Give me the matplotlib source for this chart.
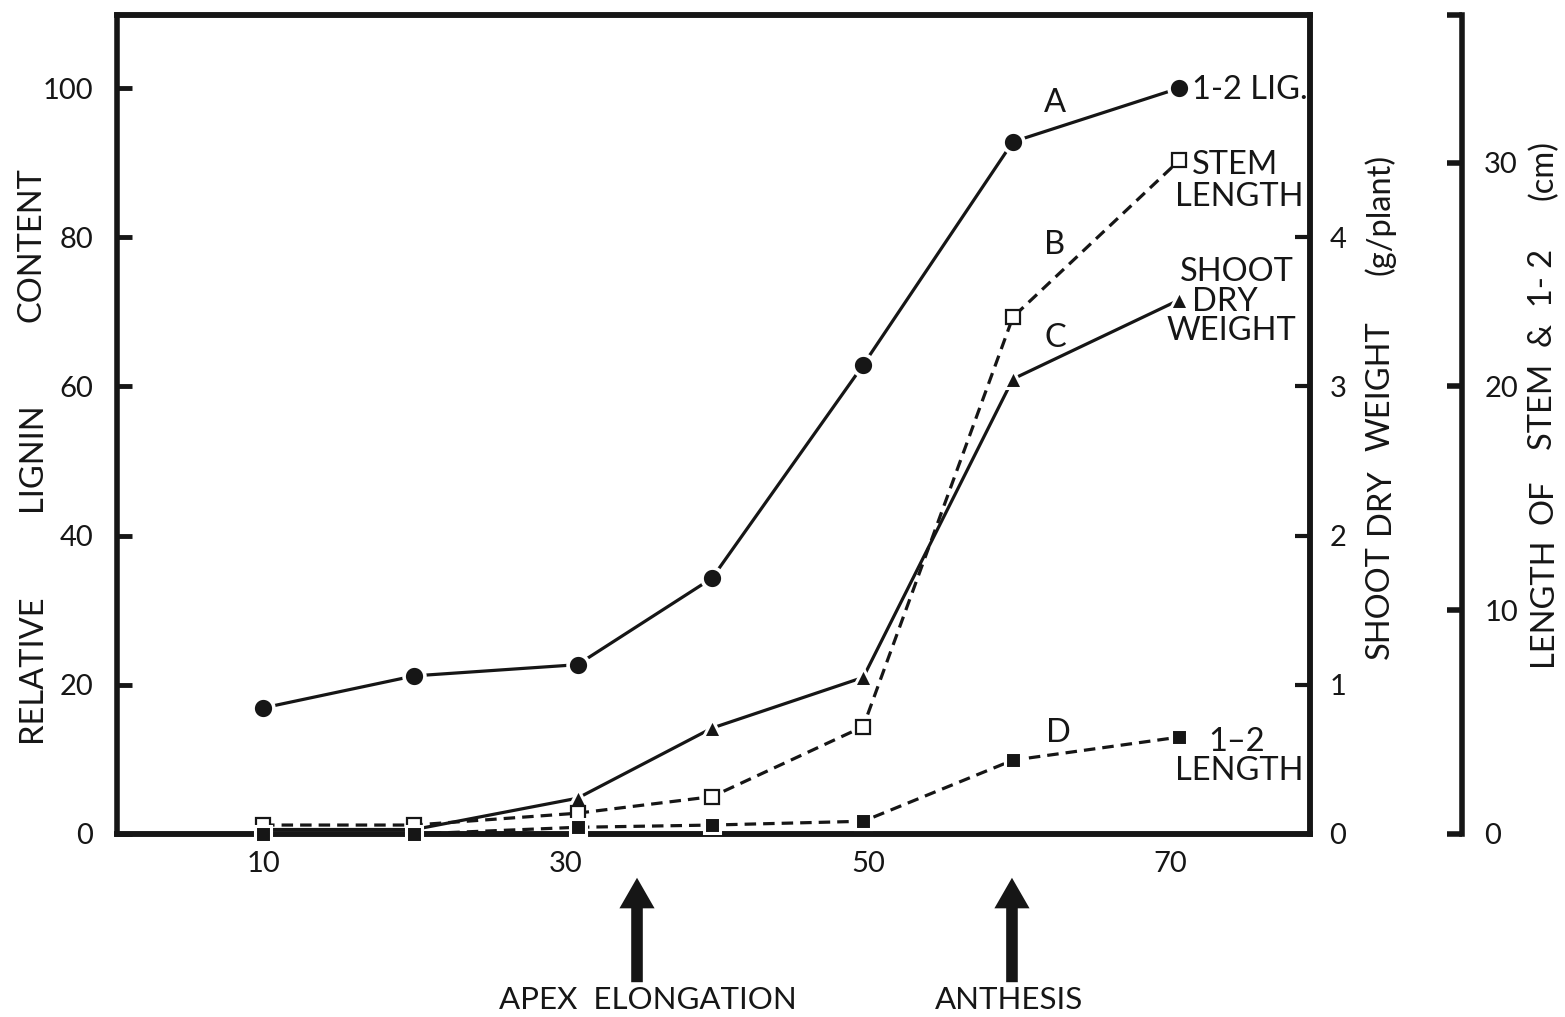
import matplotlib
matplotlib.use("Agg")
import matplotlib.pyplot as plt

plt.rcParams['font.family'] = ['Lato', 'DejaVu Sans']

# ---- data ----
days = [10, 20, 30.8, 39.7, 49.7, 59.6, 70.6]
lignin_rel = [16.9, 21.2, 22.7, 34.3, 62.9, 92.8, 100.0]          # A, relative lignin content
stem_len_cm = [0.40, 0.40, 0.93, 1.67, 4.8, 23.1, 30.1]            # B, stem length (cm)
shoot_dw_g = [0.03, 0.03, 0.24, 0.71, 1.05, 3.05, 3.58]            # C, shoot dry weight (g/plant)
i2_len_cm = [0.0, 0.0, 0.3, 0.4, 0.57, 3.3, 4.33]                 # D, 1-2 internode length (cm)

x_ticks = [10, 30, 50, 70]
left_ticks = [0, 20, 40, 60, 80, 100]
weight_ticks = [0, 1, 2, 3, 4]
length_ticks = [0, 10, 20, 30]

REL_TOP = 109.8
W = 1565
H = 1017

fig = plt.figure(figsize=(W / 100, H / 100), dpi=100)
L, R, B, T = 117 / W, 1310 / W, 1 - 834 / H, 1 - 15 / H
ax = fig.add_axes([L, B, R - L, T - B])
ax.set_xlim(0.34, 79.25)
ax.set_ylim(0, REL_TOP)

ax_w = ax.twinx()
ax_w.set_ylim(0, REL_TOP / 20.0)
ax_l = ax.twinx()
ax_l.set_ylim(0, REL_TOP / 3.0)
ax_l.spines['right'].set_position(('axes', (1462 - 117) / (1310 - 117)))

FS = 21      # tick labels
FSL = 23.5   # words
lw_series = 2.3
INK = '#161616'

for a in (ax, ax_w, ax_l):
    for s in a.spines.values():
        s.set_linewidth(4.0)
        s.set_color(INK)

ax_l.spines['top'].set_visible(False)
ax_l.spines['bottom'].set_visible(False)
ax_l.spines['left'].set_visible(False)
ax_w.spines['left'].set_visible(False)

# main axis ticks
ax.set_xticks(x_ticks)
ax.set_xticklabels([str(v) for v in x_ticks])
ax.tick_params(axis='x', length=0, pad=12, labelsize=FS, labelcolor=INK)
ax.set_yticks(left_ticks)
ax.set_yticklabels([str(v) for v in left_ticks])
ax.tick_params(axis='y', direction='in', length=11, width=3.5, pad=17, labelsize=FS,
               color=INK, labelcolor=INK)

ax_w.set_yticks(weight_ticks)
ax_w.set_yticklabels([str(v) for v in weight_ticks])
ax_w.tick_params(axis='y', direction='in', length=11, width=3.0, pad=14, labelsize=FS,
                 color=INK, labelcolor=INK)

ax_l.set_yticks(length_ticks + [REL_TOP / 3.0])
ax_l.set_yticklabels([str(v) for v in length_ticks] + [''])
ax_l.tick_params(axis='y', direction='in', length=11, width=4.0, pad=16, labelsize=FS,
                 color=INK, labelcolor=INK)

# series
ax.plot(days, lignin_rel, '-', color=INK, lw=lw_series, marker='o', ms=15,
        mfc=INK, mec='white', mew=2.6, clip_on=False, zorder=5)
ax_l.plot(days, stem_len_cm, color=INK, lw=lw_series, ls=(0, (3.6, 2.2)), marker='s', ms=10,
          mfc='white', mec=INK, mew=1.6, clip_on=False, zorder=4)
ax_w.plot(days, shoot_dw_g, '-', color=INK, lw=lw_series, marker='^', ms=13.5,
          mfc=INK, mec='white', mew=2.2, clip_on=False, zorder=5)
ax_l.plot(days, i2_len_cm, color=INK, lw=lw_series, ls=(0, (3.6, 2.2)), marker='s', ms=12,
          mfc=INK, mec='white', mew=2.2, clip_on=False, zorder=5)


def px2data(px, py):
    return 10 + (px - 263) / 15.12, (834 - py) / 7.46


def put(px, py, s, ha='center', va='center', fs=FSL, **kw):
    x, y = px2data(px, py)
    ax.text(x, y, s, ha=ha, va=va, fontsize=fs, color=INK, clip_on=False, **kw)


put(1055, 103, 'A')
put(1055, 245, 'B')
put(1055, 338, 'C')
put(1058, 733, 'D')
put(1192, 90, '1-2 LIG.', ha='left')
put(1192, 165, 'STEM', ha='left')
put(1175, 197, 'LENGTH', ha='left')
put(1180, 272, 'SHOOT', ha='left')
put(1192, 302, 'DRY', ha='left')
put(1167, 331, 'WEIGHT', ha='left')
put(1208, 742, '1–2', ha='left')
put(1175, 771, 'LENGTH', ha='left')


def ftext(px, py, s, rot=0, fs=FSL, **kw):
    fig.text(px / W, 1 - py / H, s, ha='center', va='center', rotation=rot,
             fontsize=fs, color=INK, **kw)


# left axis label
ftext(32, 668, 'RELATIVE', rot=90)
ftext(32, 457, 'LIGNIN', rot=90)
ftext(32, 245, 'CONTENT', rot=90)

# shoot dry weight label
ftext(1380, 602, 'SHOOT', rot=90)
ftext(1380, 501, 'DRY', rot=90)
ftext(1380, 386, 'WEIGHT', rot=90)
ftext(1380, 214, '(g/plant)', rot=90)

# length label
ftext(1543, 602, 'LENGTH', rot=90)
ftext(1543, 502, 'OF', rot=90)
ftext(1543, 349, 'STEM  &  1- 2', rot=90)
ftext(1543, 170, '(cm)', rot=90)

# arrows
for px in (637, 1012):
    x0, y0 = px2data(px, 985)
    x1, y1 = px2data(px, 875)
    ax.annotate('', xy=(x1, y1), xytext=(x0, y0), annotation_clip=False,
                arrowprops=dict(arrowstyle='simple,head_width=1.15,head_length=1.0,tail_width=0.38',
                                mutation_scale=22, color=INK, lw=0))

ftext(648, 1000, 'APEX  ELONGATION', fs=22.5)
ftext(1009, 1000, 'ANTHESIS', fs=22.5)

fig.savefig('out.png', dpi=100, facecolor='white')
